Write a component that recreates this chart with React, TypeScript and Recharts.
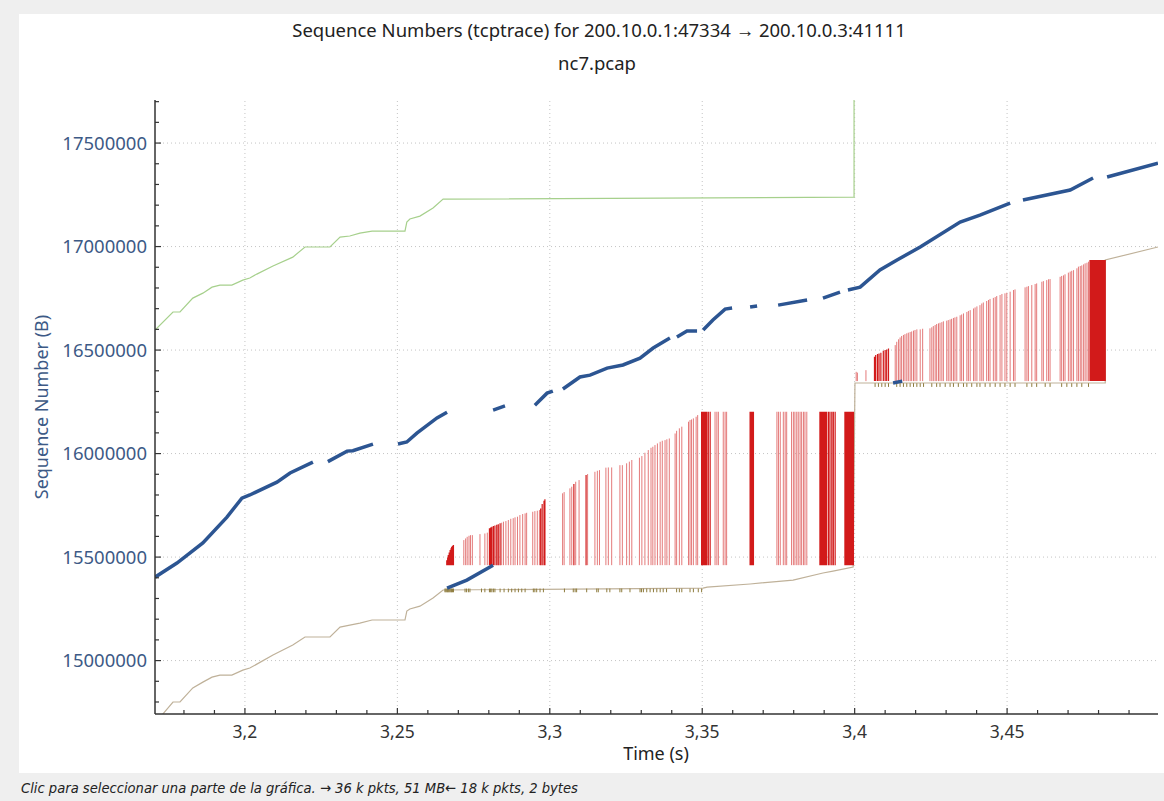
import React from 'react';
import { ComposedChart, Line, XAxis, YAxis, ReferenceLine } from 'recharts';

// ---------- axes ----------
const X_DOMAIN: [number, number] = [3.1705, 3.4995];
const Y_DOMAIN: [number, number] = [14742000, 17708000];

const xTicks = [3.18, 3.19, 3.2, 3.21, 3.22, 3.23, 3.24, 3.25, 3.26, 3.27, 3.28, 3.29, 3.3, 3.31, 3.32, 3.33, 3.34, 3.35, 3.36, 3.37, 3.38, 3.39, 3.4, 3.41, 3.42, 3.43, 3.44, 3.45, 3.46, 3.47, 3.48, 3.49];
const xMajor = [3.2, 3.25, 3.3, 3.35, 3.4, 3.45];
const xMajorLabels = ['3,2', '3,25', '3,3', '3,35', '3,4', '3,45'];

const yTicks = [14800000, 14900000, 15000000, 15100000, 15200000, 15300000, 15400000, 15500000, 15600000, 15700000, 15800000, 15900000, 16000000, 16100000, 16200000, 16300000, 16400000, 16500000, 16600000, 16700000, 16800000, 16900000, 17000000, 17100000, 17200000, 17300000, 17400000, 17500000, 17600000, 17700000];
const yMajor = [15000000, 15500000, 16000000, 16500000, 17000000, 17500000];

// ---------- data series ----------
// sequence segments (blue), null = gap
const dataSegments: ([number, number] | null)[] = [
  [3.1705, 15403000], [3.1777, 15471000], [3.1862, 15568000], [3.1941, 15693000], [3.1990, 15785000],
  [3.2016, 15800000], [3.2105, 15862000], [3.2148, 15906000], [3.2223, 15959000], null,
  [3.2272, 15961000], [3.2335, 16012000], [3.2354, 16014000], [3.2420, 16046000], null,
  [3.2502, 16046000], [3.2531, 16056000], [3.2564, 16099000], [3.2630, 16172000], [3.2663, 16200000], null,
  [3.2814, 16210000], [3.2853, 16230000], null,
  [3.2951, 16234000], [3.2991, 16292000], [3.3010, 16302000], null,
  [3.3043, 16312000], [3.3099, 16370000], [3.3132, 16379000], [3.3188, 16413000], [3.3240, 16428000],
  [3.3296, 16461000], [3.3339, 16510000], [3.3394, 16558000], null,
  [3.3417, 16563000], [3.3450, 16592000], [3.3483, 16592000], null,
  [3.3503, 16597000], [3.3535, 16645000], [3.3575, 16698000], [3.3598, 16703000], null,
  [3.3657, 16708000], [3.3680, 16713000], null,
  [3.3749, 16717000], [3.3844, 16742000], null,
  [3.3896, 16751000], [3.3952, 16780000], null,
  [3.3978, 16790000], [3.4018, 16804000], [3.4083, 16887000], [3.4139, 16935000], [3.4215, 16998000],
  [3.4346, 17118000], [3.4411, 17152000], [3.4510, 17210000], null,
  [3.4552, 17225000], [3.4707, 17273000], [3.4782, 17331000], null,
  [3.4828, 17336000], [3.4995, 17403000], null,
  [3.2663, 15350000], [3.2728, 15389000], [3.2814, 15461000], null,
  [3.4126, 16341000], [3.4156, 16350000],
];

// receive window (green)
const windowLine: [number, number][] = [
  [3.1705, 16597000], [3.1764, 16684000], [3.1787, 16684000], [3.1829, 16751000], [3.1862, 16775000],
  [3.1892, 16804000], [3.1918, 16814000], [3.1957, 16814000], [3.1993, 16838000], [3.2016, 16848000],
  [3.2039, 16867000], [3.2092, 16906000], [3.2157, 16949000], [3.2197, 16998000], [3.2279, 16998000],
  [3.2312, 17046000], [3.2344, 17051000], [3.2377, 17065000], [3.2417, 17075000], [3.2525, 17075000],
  [3.2531, 17118000], [3.2541, 17133000], [3.2574, 17147000], [3.2617, 17186000], [3.2650, 17229000],
  [3.3998, 17239000], [3.3998, 17760000],
];

// ack line (tan)
const ackLine: [number, number][] = [
  [3.1728, 14737000], [3.1764, 14800000], [3.1787, 14800000], [3.1829, 14868000], [3.1862, 14896000],
  [3.1892, 14920000], [3.1918, 14930000], [3.1957, 14930000], [3.1993, 14954000], [3.2016, 14964000],
  [3.2039, 14983000], [3.2092, 15027000], [3.2157, 15075000], [3.2197, 15114000], [3.2279, 15114000],
  [3.2312, 15162000], [3.2344, 15171000], [3.2377, 15181000], [3.2417, 15196000], [3.2525, 15196000],
  [3.2531, 15239000], [3.2541, 15249000], [3.2574, 15263000], [3.2617, 15302000], [3.2650, 15341000],
  [3.3503, 15350000], [3.3516, 15355000], [3.3657, 15370000], [3.3798, 15389000], [3.3896, 15423000],
  [3.3929, 15432000], [3.3995, 15452000], [3.4001, 16341000], [3.4822, 16341000], [3.4822, 16935000],
  [3.4995, 16998000],
];

// SACK blocks, first burst: [time, top], all from SACK1_LOW
const SACK1_LOW = 15461000;
const sack1Light: [number, number][] = [
  [3.2718, 15582000], [3.2724, 15590000], [3.2729, 15598000], [3.2735, 15603000], [3.2740, 15606000],
  [3.2746, 15606000], [3.2771, 15611000], [3.2787, 15614000], [3.2795, 15618000],
  [3.2842, 15666000], [3.2848, 15671000], [3.2856, 15674000], [3.2864, 15679000], [3.2872, 15685000],
  [3.2880, 15688000], [3.2886, 15692000], [3.2894, 15695000], [3.2902, 15703000], [3.2911, 15708000],
  [3.2919, 15711000], [3.2924, 15714000], [3.2944, 15719000], [3.2951, 15722000], [3.2959, 15724000],
  [3.2966, 15727000], [3.3042, 15808000], [3.3047, 15814000], [3.3066, 15832000], [3.3072, 15840000],
  [3.3085, 15864000], [3.3096, 15872000], [3.3124, 15901000], [3.3148, 15912000], [3.3156, 15917000],
  [3.3163, 15920000], [3.3184, 15932000], [3.3192, 15933000], [3.3203, 15933000], [3.3230, 15944000],
  [3.3238, 15944000], [3.3252, 15953000], [3.3261, 15961000], [3.3269, 15969000], [3.3294, 15980000],
  [3.3302, 15988000], [3.3312, 16004000], [3.3323, 16017000], [3.3332, 16028000], [3.3338, 16033000],
  [3.3345, 16041000], [3.3353, 16049000], [3.3362, 16057000], [3.3369, 16062000], [3.3378, 16065000],
  [3.3384, 16069000], [3.3392, 16073000], [3.3411, 16097000], [3.3416, 16110000], [3.3425, 16122000],
  [3.3433, 16130000], [3.3455, 16154000], [3.3460, 16162000], [3.3465, 16165000], [3.3471, 16170000],
  [3.3480, 16178000], [3.3485, 16186000], [3.3542, 16202000], [3.3548, 16202000], [3.3553, 16202000],
  [3.3569, 16202000], [3.3575, 16202000], [3.3580, 16202000], [3.3745, 16202000], [3.3750, 16202000],
  [3.3756, 16202000], [3.3766, 16202000], [3.3772, 16202000], [3.3777, 16202000], [3.3793, 16202000],
  [3.3799, 16202000], [3.3804, 16202000], [3.3810, 16202000], [3.3815, 16202000], [3.3821, 16202000],
  [3.3826, 16202000], [3.3832, 16202000], [3.3837, 16202000], [3.3843, 16202000],
];
const sack1Dense: [number, number][] = [
  [3.2662, 15485000], [3.2665, 15498000], [3.2667, 15510000], [3.2670, 15522000], [3.2673, 15534000],
  [3.2676, 15543000], [3.2678, 15550000], [3.2681, 15555000], [3.2684, 15558000],
  [3.2802, 15639000], [3.2806, 15643000], [3.2810, 15647000], [3.2815, 15650000], [3.2820, 15653000],
  [3.2826, 15656000], [3.2831, 15659000], [3.2837, 15663000],
  [3.2970, 15735000], [3.2975, 15756000], [3.2981, 15772000], [3.2984, 15779000], [3.3079, 15853000],
  [3.3119, 15896000],
  [3.3498, 16202000], [3.3501, 16202000], [3.3504, 16202000], [3.3507, 16202000], [3.3509, 16202000],
  [3.3512, 16202000], [3.3515, 16202000], [3.3520, 16202000], [3.3526, 16202000],
  [3.3657, 16202000], [3.3660, 16202000], [3.3662, 16202000], [3.3665, 16202000], [3.3668, 16202000],
  [3.3886, 16202000], [3.3889, 16202000], [3.3892, 16202000], [3.3895, 16202000], [3.3897, 16202000],
  [3.3900, 16202000], [3.3903, 16202000], [3.3906, 16202000], [3.3908, 16202000], [3.3914, 16202000],
  [3.3919, 16202000], [3.3925, 16202000], [3.3930, 16202000], [3.3936, 16202000],
  [3.3968, 16202000], [3.3971, 16202000], [3.3974, 16202000], [3.3977, 16202000], [3.3979, 16202000],
  [3.3982, 16202000], [3.3985, 16202000], [3.3988, 16202000], [3.3990, 16202000], [3.3993, 16202000],
  [3.3996, 16202000],
];

// SACK blocks, second burst
const SACK2_LOW = 16350000;
const sack2Light: [number, number][] = [
  [3.4005, 16395000], [3.4009, 16391000], [3.4037, 16403000],
  [3.4133, 16524000], [3.4138, 16540000], [3.4144, 16552000], [3.4149, 16561000], [3.4154, 16568000],
  [3.4160, 16573000], [3.4165, 16577000], [3.4171, 16581000], [3.4176, 16584000], [3.4182, 16587000],
  [3.4187, 16590000], [3.4193, 16594000], [3.4198, 16597000], [3.4204, 16600000], [3.4215, 16600000],
  [3.4223, 16603000], [3.4247, 16605000], [3.4253, 16610000], [3.4258, 16616000], [3.4264, 16621000],
  [3.4269, 16626000], [3.4275, 16629000], [3.4280, 16632000], [3.4286, 16635000], [3.4291, 16639000],
  [3.4302, 16642000], [3.4307, 16645000], [3.4313, 16648000], [3.4318, 16651000], [3.4324, 16655000],
  [3.4329, 16658000], [3.4335, 16661000], [3.4346, 16668000], [3.4351, 16672000], [3.4357, 16677000],
  [3.4368, 16684000], [3.4373, 16689000], [3.4379, 16693000], [3.4390, 16701000], [3.4395, 16706000],
  [3.4401, 16711000], [3.4411, 16717000], [3.4417, 16725000], [3.4422, 16730000], [3.4433, 16737000],
  [3.4439, 16742000], [3.4444, 16747000], [3.4455, 16752000], [3.4461, 16756000], [3.4466, 16761000],
  [3.4477, 16766000], [3.4483, 16771000], [3.4493, 16774000], [3.4499, 16777000], [3.4510, 16782000],
  [3.4521, 16790000], [3.4526, 16793000], [3.4559, 16803000], [3.4565, 16806000], [3.4570, 16809000],
  [3.4581, 16814000], [3.4592, 16819000], [3.4597, 16822000], [3.4614, 16830000], [3.4619, 16833000],
  [3.4630, 16838000], [3.4636, 16842000], [3.4641, 16843000], [3.4674, 16854000], [3.4679, 16858000],
  [3.4685, 16861000], [3.4690, 16866000], [3.4701, 16874000], [3.4707, 16879000], [3.4712, 16883000],
  [3.4718, 16886000], [3.4729, 16895000], [3.4734, 16903000], [3.4740, 16906000], [3.4745, 16909000],
  [3.4751, 16914000], [3.4756, 16919000], [3.4762, 16922000], [3.4767, 16927000],
];
const sack2Dense: [number, number][] = [
  [3.4065, 16468000], [3.4069, 16476000], [3.4075, 16481000], [3.4080, 16484000], [3.4086, 16487000],
  [3.4094, 16497000], [3.4100, 16500000], [3.4105, 16503000], [3.4111, 16508000],
  [3.4772, 16935000], [3.4775, 16935000], [3.4778, 16935000], [3.4781, 16935000], [3.4783, 16935000],
  [3.4786, 16935000], [3.4789, 16935000], [3.4792, 16935000], [3.4794, 16935000], [3.4797, 16935000],
  [3.4800, 16935000], [3.4803, 16935000], [3.4805, 16935000], [3.4808, 16935000], [3.4811, 16935000],
  [3.4814, 16935000], [3.4816, 16935000], [3.4819, 16935000], [3.4822, 16935000],
];

// duplicate ack markers (olive ticks)
const DUP1_RANGE: [number, number] = [15330000, 15348000];
const dupAck1: number[] = [
  3.2656, 3.2659, 3.2662, 3.2665, 3.2667, 3.2670, 3.2673, 3.2676, 3.2678, 3.2681, 3.2684,
  3.2722, 3.2727, 3.2733, 3.2738, 3.2776, 3.2787, 3.2802, 3.2806, 3.2810, 3.2815, 3.2820,
  3.2837, 3.2850, 3.2864, 3.2875, 3.2886, 3.2897, 3.2908, 3.2919, 3.2946, 3.2951, 3.2957, 3.2968, 3.2979,
  3.3048, 3.3077, 3.3083, 3.3088, 3.3121, 3.3154, 3.3159, 3.3187, 3.3197, 3.3230, 3.3236, 3.3263,
  3.3296, 3.3301, 3.3307, 3.3318, 3.3329, 3.3340, 3.3351, 3.3362, 3.3372, 3.3383, 3.3416, 3.3425,
  3.3433, 3.3460, 3.3471, 3.3487, 3.3498,
];
const DUP2_RANGE: [number, number] = [16322000, 16340000];
const dupAck2: number[] = [
  3.4067, 3.4078, 3.4089, 3.4100, 3.4111, 3.4138, 3.4149, 3.4160, 3.4171, 3.4182, 3.4193, 3.4204,
  3.4215, 3.4226, 3.4253, 3.4269, 3.4280, 3.4297, 3.4313, 3.4324, 3.4340, 3.4357, 3.4368, 3.4384,
  3.4401, 3.4411, 3.4428, 3.4444, 3.4461, 3.4477, 3.4493, 3.4510, 3.4526, 3.4565, 3.4581, 3.4597,
  3.4625, 3.4641, 3.4679, 3.4696, 3.4712, 3.4729, 3.4745, 3.4767,
];

// ---------- table builders ----------
type Pt = { t: number; v: number | null };
const toPoints = (arr: ([number, number] | null)[]): Pt[] => {
  let last = X_DOMAIN[0];
  return arr.map((p) => {
    if (p) { last = p[0]; return { t: p[0], v: p[1] }; }
    return { t: last, v: null };
  });
};
const verticals = (arr: [number, number][], low: number): Pt[] =>
  arr.flatMap(([t, hi]) => [{ t, v: low }, { t, v: hi }, { t, v: null }]);
const ticksAt = (arr: number[], range: [number, number]): Pt[] =>
  arr.flatMap((t) => [{ t, v: range[0] }, { t, v: range[1] }, { t, v: null }]);

const blueData = toPoints(dataSegments);
const greenData = toPoints(windowLine);
const tanData = toPoints(ackLine);
const sack1LightData = verticals(sack1Light, SACK1_LOW);
const sack1DenseData = verticals(sack1Dense, SACK1_LOW);
const sack2LightData = verticals(sack2Light, SACK2_LOW);
const sack2DenseData = verticals(sack2Dense, SACK2_LOW);
const dup1Data = ticksAt(dupAck1, DUP1_RANGE);
const dup2Data = ticksAt(dupAck2, DUP2_RANGE);

const FONT = '"Noto Sans", "Open Sans", sans-serif';

const XTick = (props: any) => {
  const { x, y, payload } = props;
  const idx = xMajor.findIndex((m) => Math.abs(m - payload.value) < 1e-6);
  const major = idx >= 0;
  return (
    <g>
      <line x1={x} x2={x} y1={y} y2={y - (major ? 6 : 4)} stroke="#333" strokeWidth={1.2} />
      {major && (
        <text x={x} y={y + 24} textAnchor="middle" fontSize={17.5} fontFamily={FONT} fill="#333">
          {xMajorLabels[idx]}
        </text>
      )}
    </g>
  );
};

const YTick = (props: any) => {
  const { x, y, payload } = props;
  const major = yMajor.includes(payload.value);
  return (
    <g>
      <line x1={x} x2={x + (major ? 6 : 4)} y1={y} y2={y} stroke="#333" strokeWidth={1.2} />
      {major && (
        <text x={x - 8} y={y + 6.5} textAnchor="end" fontSize={18.5} fontFamily={FONT} fill="#3d5a86">
          {String(payload.value)}
        </text>
      )}
    </g>
  );
};

const noDot = { dot: false as const, activeDot: false as const, isAnimationActive: false, connectNulls: false };

export default function App() {
  return (
    <div style={{ position: 'absolute', left: 0, top: 0, width: 1164, height: 801, background: '#efefef', overflow: 'hidden' }}>
      <div style={{ position: 'absolute', left: 19, top: 14, width: 1145, height: 759, background: '#ffffff' }} />
      <div style={{ position: 'absolute', left: 0, top: 17, width: 1198, textAlign: 'center', fontFamily: FONT, fontSize: 18.5, color: '#222', whiteSpace: 'nowrap' }}>
        Sequence Numbers (tcptrace) for 200.10.0.1:47334 → 200.10.0.3:41111
      </div>
      <div style={{ position: 'absolute', left: 0, top: 50, width: 1194, textAlign: 'center', fontFamily: FONT, fontSize: 18.5, color: '#222' }}>
        nc7.pcap
      </div>
      <div style={{ position: 'absolute', left: 0, top: 741, width: 1312, textAlign: 'center', fontFamily: FONT, fontSize: 18, color: '#222' }}>
        Time (s)
      </div>
      <div style={{ position: 'absolute', left: 41, top: 408, width: 0, height: 0 }}>
        <div style={{ position: 'absolute', left: -120, top: -13, width: 240, textAlign: 'center', transform: 'rotate(-90deg)', fontFamily: FONT, fontSize: 18, color: '#3d5a86', whiteSpace: 'nowrap' }}>
          Sequence Number (B)
        </div>
      </div>
      <div style={{ position: 'absolute', left: 21, top: 779, fontFamily: '"Liberation Sans Narrow", "DejaVu Sans Condensed", sans-serif', fontStyle: 'italic', fontSize: 14.6, color: '#222', whiteSpace: 'nowrap' }}>
        Clic para seleccionar una parte de la gráfica. → 36 k pkts, 51 MB← 18 k pkts, 2 bytes
      </div>
      <div style={{ position: 'absolute', left: 0, top: 0 }}>
        <ComposedChart width={1164} height={801} margin={{ top: 100, right: 6, bottom: 47, left: 95 }}>
          <XAxis
            type="number"
            dataKey="t"
            domain={X_DOMAIN}
            allowDataOverflow
            ticks={xTicks}
            interval={0}
            tick={<XTick />}
            tickLine={false}
            tickSize={0}
            tickMargin={0}
            height={40}
            axisLine={{ stroke: '#333', strokeWidth: 1.5 }}
          />
          <YAxis
            type="number"
            dataKey="v"
            domain={Y_DOMAIN}
            allowDataOverflow
            ticks={yTicks}
            interval={0}
            tick={<YTick />}
            tickLine={false}
            tickSize={0}
            tickMargin={0}
            width={60}
            axisLine={{ stroke: '#333', strokeWidth: 1.5 }}
          />
          {xMajor.map((v) => (
            <ReferenceLine key={'gx' + v} x={v} stroke="#c4c4c4" strokeDasharray="1 3" ifOverflow="hidden" />
          ))}
          {yMajor.map((v) => (
            <ReferenceLine key={'gy' + v} y={v} stroke="#c4c4c4" strokeDasharray="1 3" ifOverflow="hidden" />
          ))}
          <Line data={greenData} dataKey="v" stroke="#a6d08c" strokeWidth={1.2} {...noDot} />
          <Line data={tanData} dataKey="v" stroke="#bfb199" strokeWidth={1.2} {...noDot} />
          <Line data={dup1Data} dataKey="v" stroke="#8d7b3c" strokeWidth={1} {...noDot} />
          <Line data={dup2Data} dataKey="v" stroke="#8d7b3c" strokeWidth={1} {...noDot} />
          <Line data={sack1LightData} dataKey="v" stroke="#e47a7a" strokeWidth={1} {...noDot} />
          <Line data={sack2LightData} dataKey="v" stroke="#e47a7a" strokeWidth={1} {...noDot} />
          <Line data={sack1DenseData} dataKey="v" stroke="#d21a1a" strokeWidth={1.2} {...noDot} />
          <Line data={sack2DenseData} dataKey="v" stroke="#d21a1a" strokeWidth={1.2} {...noDot} />
          <Line data={blueData} dataKey="v" stroke="#2c5592" strokeWidth={3.5} {...noDot} />
        </ComposedChart>
      </div>
    </div>
  );
}
